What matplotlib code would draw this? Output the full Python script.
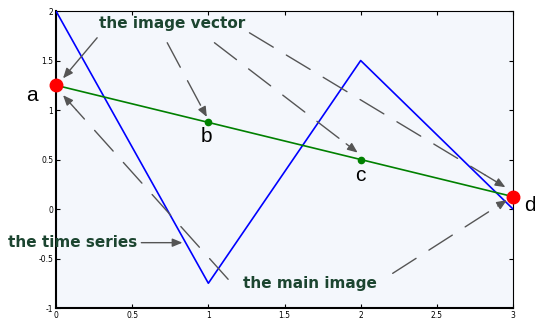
import numpy as np
import matplotlib.pyplot as plt

# time series (blue) and the image vector (green)
ts_x = [0, 1, 2, 3]
ts_y = [2, -0.75, 1.5, 0]
vec_x = [0, 1, 2, 3]
vec_y = [1.25, 0.875, 0.5, 0.125]
point_names = ['a', 'b', 'c', 'd']
name_pos = [(-0.16, 1.15), (0.99, 0.73), (2.0, 0.34), (3.11, 0.04)]

xticks = [0, 0.5, 1, 1.5, 2, 2.5, 3]
xticklabels = ['0', '0.5', '1', '1.5', '2', '2.5', '3']
yticks = [-1, -0.5, 0, 0.5, 1, 1.5, 2]
yticklabels = ['-1', '-0.5', '0', '0.5', '1', '1.5', '2']

# callouts: text, text position, list of (start, tip, dashed)
callouts = [
    ('the image vector', (0.76, 1.87), [((0.27, 1.73), (0.046, 1.32), False),
                                        ((0.73, 1.68), (0.99, 0.93), True),
                                        ((1.04, 1.68), (1.98, 0.57), True),
                                        ((1.27, 1.78), (2.95, 0.22), True)]),
    ('the time series', (0.11, -0.34), [((0.56, -0.34), (0.83, -0.34), False)]),
    ('the main image', (1.67, -0.75), [((1.13, -0.71), (0.046, 1.15), True),
                                      ((2.21, -0.65), (2.96, 0.09), True)]),
]

fig = plt.figure(figsize=(5.35, 3.2), dpi=100)
ax = fig.add_axes([0.1047, 0.0375, 0.8542, 0.928])
ax.set_facecolor('#f4f7fc')

ax.plot(ts_x, ts_y, color='#0000ff', lw=1.2, zorder=3)
ax.plot(vec_x, vec_y, color='#008000', lw=1.2, zorder=3)
ax.plot(vec_x[1:3], vec_y[1:3], 'o', color='#008000', ms=4.5, zorder=4)
ax.plot([vec_x[0], vec_x[3]], [vec_y[0], vec_y[3]], 'o', color='#ff0000',
        ms=9, zorder=5, clip_on=False)

for name, (px, py) in zip(point_names, name_pos):
    ax.text(px, py, name, fontsize=15, ha='center', va='center',
            family='Liberation Sans', clip_on=False)

gray = '#555555'
head = '-|>,head_length=0.6,head_width=0.25'
for label, tpos, arrows in callouts:
    ax.text(tpos[0], tpos[1], label, fontsize=11, fontweight='bold',
            color='#1c4530', ha='center', va='center', clip_on=False,
            family='DejaVu Sans', zorder=6)
    for start, tip, dashed in arrows:
        if dashed:
            s = np.array(start)
            t = np.array(tip)
            near = s + (t - s) * 0.92
            ax.annotate('', xy=tuple(near), xytext=start,
                        arrowprops=dict(arrowstyle='-', color=gray, lw=1.0,
                                        linestyle=(0, (20, 11)),
                                        shrinkA=0, shrinkB=0))
            ax.annotate('', xy=tip, xytext=tuple(near),
                        arrowprops=dict(arrowstyle=head, color=gray, lw=1.0,
                                        shrinkA=0, shrinkB=0))
        else:
            ax.annotate('', xy=tip, xytext=start,
                        arrowprops=dict(arrowstyle=head, color=gray, lw=1.0,
                                        shrinkA=0, shrinkB=0))

ax.set_xlim(0, 3)
ax.set_ylim(-1, 2)
ax.set_xticks(xticks)
ax.set_xticklabels(xticklabels)
ax.set_yticks(yticks)
ax.set_yticklabels(yticklabels)
ax.tick_params(direction='in', top=True, right=True, labelsize=5.5,
               length=3, pad=2)
for s in ['left', 'bottom']:
    ax.spines[s].set_linewidth(1.5)
for s in ['top', 'right']:
    ax.spines[s].set_linewidth(0.8)

fig.savefig('out.png', dpi=100)
